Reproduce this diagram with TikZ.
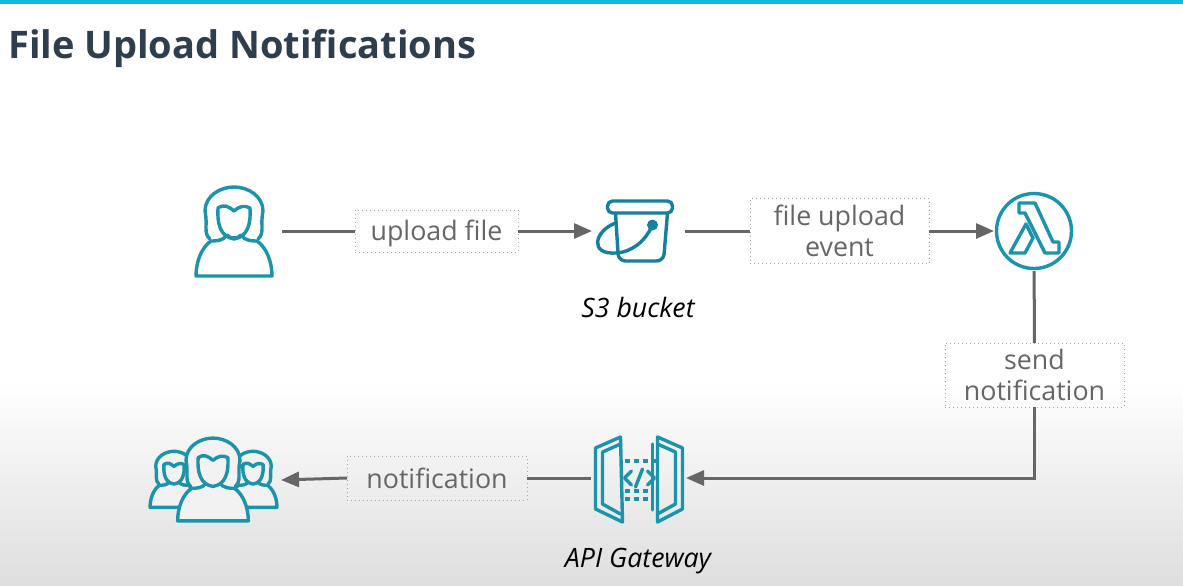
\documentclass[tikz,border=0pt]{standalone}
\usepackage{fontspec}
\setmainfont{Open Sans}
\usetikzlibrary{arrows.meta}
\definecolor{iconteal}{HTML}{1A93AB}
\definecolor{bucketteal}{HTML}{177F9E}
\definecolor{linegray}{HTML}{666666}
\definecolor{dotgray}{HTML}{A8A8A8}
\definecolor{titleblue}{HTML}{2F3E4E}
\definecolor{topbar}{HTML}{17B5E0}
\tikzset{
  icon/.style={draw=iconteal,line width=3.4pt,line join=round,line cap=round},
  iconbox/.style={inner sep=0pt,outer sep=0pt,minimum width=#1,minimum height=90pt},
  tag/.style={draw=dotgray,line width=1pt,dash pattern=on 1pt off 3pt,inner sep=0pt,outer sep=0pt,
    text=linegray,align=center,font=\fontsize{26.8}{31}\selectfont},
  caption/.style={font=\fontsize{26.7}{32}\selectfont\itshape,text=black},
  link/.style={draw=linegray,line width=3pt},
  linkto/.style={link,-{Triangle[length=18pt,width=15pt]}},
  person/.pic={
    \path[icon,fill=#1] (-24,8) .. controls (-31,2) and (-26,-6) .. (-29,-20)
      .. controls (-29,-35) and (-14,-44) .. (0,-44) .. controls (14,-44) and (29,-35) .. (29,-20)
      .. controls (26,-6) and (31,2) .. (24,8);
    \path[icon,fill=#1] (-38,45) -- (38,45) .. controls (38,30) and (32,16) .. (23,10)
      .. controls (18,10) and (11,10) .. (7,4) .. controls (4,8) and (-4,8) .. (-7,4)
      .. controls (-11,10) and (-18,10) .. (-23,10) .. controls (-32,16) and (-38,30) .. (-38,45) -- cycle;
    \path[icon,fill=#1] (-16,-23) .. controls (-10,-27) and (-6,-25) .. (0,-20)
      .. controls (6,-25) and (10,-26) .. (16,-23) .. controls (17,-8) and (14,6) .. (0,8)
      .. controls (-14,6) and (-17,-8) .. (-16,-23) -- cycle;
  },
  bucketicon/.pic={
    \draw[icon,draw=bucketteal,rounded corners=5pt] (-31,-30) rectangle (34,-18);
    \draw[icon,draw=bucketteal,rounded corners=7pt] (-23,-18) -- (-20,30) -- (25,30) -- (29,-18);
    \draw[icon,draw=bucketteal] (14,-6) .. controls (6,12) and (-8,21) .. (-22,22)
      .. controls (-50,24) and (-44,0) .. (-23,-8);
    \fill[bucketteal] (14,-6) circle (5.5pt);
  },
  lambdaicon/.pic={
    \draw[icon] (0,0) circle (37.5pt);
    \draw[icon] (-15,-28) -- (1,-28) -- (19,11) -- (25,11) -- (25,22) -- (11,22) -- (-9,-18) -- (-15,-18) -- cycle;
    \draw[icon] (-8,-7) -- (-24,22) -- (-9,22) -- (-1,7) -- cycle;
  },
  gatewayicon/.pic={
    \draw[icon] (-43,-30) -- (-18,-41) -- (-16,44) -- (-43,31) -- cycle;
    \draw[icon] (-36,-26) -- (-18,-34) (-36,-26) -- (-36,26) -- (-18,36);
    \draw[icon] (44,-30) -- (19,-41) -- (19,44) -- (44,31) -- cycle;
    \draw[icon] (37,-26) -- (37,26) -- (19,36) (37,-26) -- (19,-34);
    \draw[icon] (14,-34) -- (14,32);
    \draw[icon,line cap=butt,dash pattern=on 5pt off 4pt] (-14,-17) -- (19,-17);
    \draw[icon,line cap=butt,dash pattern=on 5pt off 4pt] (-14,13) -- (14,13);
    \draw[icon,line cap=butt,dash pattern=on 5pt off 4pt] (-14,21) -- (14,21);
    \draw[icon] (-7,-7) -- (-14,0) -- (-7,7) (9,-7) -- (16,0) -- (9,7) (4,-9) -- (-3,9);
  }
}
\begin{document}
\begin{tikzpicture}[x=1pt,y=-1pt]
\useasboundingbox (0,0) rectangle (1183,586);
\fill[white] (0,0) rectangle (1183,586);
\shade[top color=white,bottom color=black!13] (0,380) rectangle (1183,586);
\fill[topbar] (0,0) rectangle (1183,4);
\node[anchor=west,inner sep=0pt,text=titleblue,font=\fontsize{38}{46}\selectfont\bfseries] (title) at (8,49) {File Upload Notifications};

\node[iconbox=96pt] (uploader) at (234,231) {};
\node[iconbox=93pt] (bucket) at (638.5,231) {};
\node[iconbox=80pt,circle,minimum height=80pt] (lambda) at (1034,231) {};
\node[iconbox=95pt] (gateway) at (638.5,478) {};
\node[iconbox=130pt] (users) at (216,480) {};

\pic at (uploader) {person=none};
\pic at (bucket) {bucketicon};
\pic at (lambda) {lambdaicon};
\pic at (gateway) {gatewayicon};
\pic[scale=0.63] at (174,479) {person=black!5};
\pic[scale=0.63] at (253,479) {person=black!5};
\pic[scale=0.93] at (213,479) {person=black!5};

\node[tag,minimum width=163pt,minimum height=42pt,text height=18pt,text depth=0pt] (uploadtag) at (436.5,231) {upload file};
\node[tag,minimum width=179pt,minimum height=65pt] (eventtag) at (839.5,231) {file upload\\event};
\node[tag,minimum width=179pt,minimum height=64pt] (sendtag) at (1034.5,375) {send\\notification};
\node[tag,minimum width=180pt,minimum height=44pt] (notifytag) at (437,478) {notification};

\node[caption] (bucketname) at (638,307) {S3 bucket};
\node[caption] (gatewayname) at (638,561) {API Gateway};

\draw[link] (uploader) -- (uploadtag);
\draw[linkto] (uploadtag) -- (bucket);
\draw[link] (bucket) -- (eventtag);
\draw[linkto] (eventtag) -- (lambda);
\draw[link] (lambda) -- (sendtag);
\draw[linkto] (sendtag) |- (gateway);
\draw[link] (gateway) -- (notifytag);
\draw[linkto] (notifytag.west) -- (users.east);
\end{tikzpicture}
\end{document}
